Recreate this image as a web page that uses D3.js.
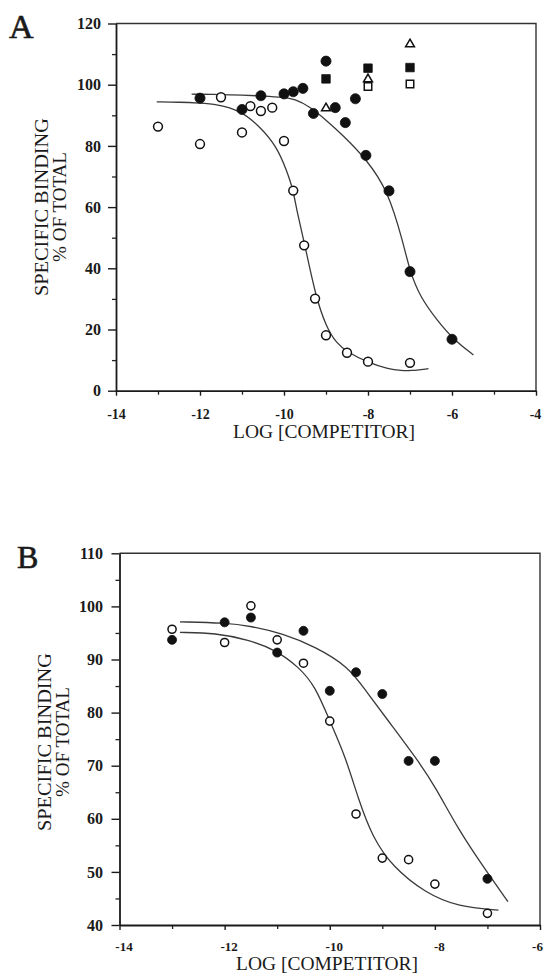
<!DOCTYPE html>
<meta charset="utf-8">
<html>
<script src="https://d3js.org/d3.v7.min.js"></script>
<style>
  body { margin: 0; background: #fff; }
  text { font-family: "Liberation Serif", "DejaVu Serif", serif; fill: #1a1a1a; }
</style>
<div id="chart"></div>
<script>

// ---- panel A data (log competitor, % specific binding) ----
var aOpenLog   = [-13, -12, -11.5, -11, -10.8, -10.55, -10.28, -10, -9.78, -9.52, -9.26, -9, -8.5, -8, -7];
var aOpenPct   = [86.3, 80.6, 95.9, 84.4, 93.0, 91.4, 92.5, 81.6, 65.4, 47.5, 30.1, 18.1, 12.4, 9.5, 9.1];
var aFillLog   = [-12, -11, -10.55, -10, -9.78, -9.55, -9.3, -9, -8.78, -8.54, -8.3, -8.05, -7.5, -7, -6];
var aFillPct   = [95.6, 91.9, 96.4, 97.0, 97.7, 98.8, 90.6, 107.7, 92.5, 87.6, 95.4, 76.9, 65.3, 38.9, 16.8];
var aSqFillLog = [-9, -8, -7];
var aSqFillPct = [101.9, 105.4, 105.6];
var aTriLog    = [-9, -8, -7];
var aTriPct    = [92.3, 101.8, 113.2];
var aSqOpenLog = [-8, -7];
var aSqOpenPct = [99.4, 100.2];

// fitted curves
var aFitOpenLog = [-13.03, -12.5, -12, -11.6, -11.05, -10.57, -10.17, -9.94, -9.78, -9.7, -9.5, -9.25, -9, -8.75, -8.5, -8, -7.5, -7.2, -7, -6.56];
var aFitOpenPct = [94.4, 94.3, 94.0, 93.6, 91.7, 86.3, 79.7, 72.1, 65.6, 59, 47.5, 31, 21, 15.5, 12.7, 9.2, 7.0, 6.6, 6.5, 7.2];
var aFitFillLog = [-12.2, -11.5, -11, -10.5, -10, -9.75, -9.4, -9, -8.6, -8.06, -7.52, -7.16, -7, -6.76, -6.36, -5.97, -5.49];
var aFitFillPct = [96.9, 96.8, 96.6, 96.3, 95.9, 95.3, 93, 88.5, 83.5, 76, 65.4, 48.2, 38.9, 30.7, 23.1, 16.8, 11.7];

// ---- panel B data ----
var bLog     = [-13, -12, -11.5, -11, -10.5, -10, -9.5, -9, -8.5, -8, -7];
var bOpenPct = [95.7, 93.2, 100.1, 93.7, 89.3, 78.4, 60.9, 52.6, 52.3, 47.7, 42.2];
var bFillPct = [93.7, 97.0, 97.9, 91.3, 95.4, 84.1, 87.6, 83.5, 70.9, 70.9, 48.7];

var bFitFillLog = [-12.85, -12, -11.5, -10.9, -10.27, -9.64, -9.32, -8.8, -8.31, -7.99, -7.55, -7.04, -6.61];
var bFitFillPct = [97.1, 96.9, 96.3, 94.9, 92.4, 88.6, 84.2, 77.3, 70.8, 66.0, 57.9, 50.4, 44.4];
var bFitOpenLog = [-12.85, -12.17, -11.54, -11.03, -10.59, -10.27, -10, -9.7, -9.45, -9.19, -8.81, -8.18, -7.55, -6.79];
var bFitOpenPct = [95.1, 95.0, 93.7, 91.8, 88.6, 84.9, 78.4, 71.7, 63.5, 56.6, 51, 46, 43.4, 42.8];

// tick values
var aXTicks = [-14, -12, -10, -8, -6, -4];
var aYTicks = [0, 20, 40, 60, 80, 100, 120];
var bXTicks = [-14, -12, -10, -8, -6];
var bYTicks = [40, 50, 60, 70, 80, 90, 100, 110];

var svg = d3.select("#chart").append("svg")
    .attr("width", 545)
    .attr("height", 978);

function zip(xs, ys) { return xs.map(function(x, i) { return [x, ys[i]]; }); }

function drawPanel(p) {
  var x = d3.scaleLinear().domain(p.xDomain).range([p.left, p.right]);
  var y = d3.scaleLinear().domain(p.yDomain).range([p.bottom, p.top]);
  var g = svg.append("g");

  // box top and right
  g.append("path")
    .attr("d", "M" + p.left + "," + p.top + "H" + p.right + "V" + p.bottom)
    .attr("fill", "none").attr("stroke", "#333").attr("stroke-width", 1.4);

  // minor ticks
  g.append("g").attr("transform", "translate(0," + p.bottom + ")")
    .call(d3.axisBottom(x).tickValues(p.xMinor).tickSize(4).tickSizeOuter(0).tickFormat(""))
    .call(function(s) { s.select(".domain").remove(); s.selectAll("line").attr("stroke", "#222").attr("stroke-width", 1.3); });
  g.append("g").attr("transform", "translate(" + p.left + ",0)")
    .call(d3.axisLeft(y).tickValues(p.yMinor).tickSize(4).tickSizeOuter(0).tickFormat(""))
    .call(function(s) { s.select(".domain").remove(); s.selectAll("line").attr("stroke", "#222").attr("stroke-width", 1.3); });

  // major axes
  var xa = g.append("g").attr("transform", "translate(0," + p.bottom + ")")
    .call(d3.axisBottom(x).tickValues(p.xTicks).tickSize(5).tickPadding(p.xPad).tickSizeOuter(0)
      .tickFormat(function(d) { return String(d); }));
  var ya = g.append("g").attr("transform", "translate(" + p.left + ",0)")
    .call(d3.axisLeft(y).tickValues(p.yTicks).tickSize(8).tickPadding(p.yPad).tickSizeOuter(0)
      .tickFormat(function(d) { return String(d); }));
  [xa, ya].forEach(function(a) {
    a.select(".domain").attr("stroke", "#1a1a1a").attr("stroke-width", 1.8);
    a.selectAll("line").attr("stroke", "#1a1a1a").attr("stroke-width", 1.4);
    a.selectAll("text").attr("font-family", "Liberation Serif").attr("font-weight", "bold").attr("fill", "#1a1a1a");
  });
  // keep the last label inside the page
  xa.selectAll("text")
    .attr("font-size", p.xFont + "px")
    .attr("dx", function(d, i) { return i === p.xTicks.length - 1 ? p.xDxLast : p.xDx; });
  ya.selectAll("text").attr("font-size", p.yFont + "px");

  // axis titles
  g.append("text")
    .attr("x", p.xTitleX).attr("y", p.xTitleY)
    .attr("text-anchor", "middle").attr("font-size", "18px")
    .attr("textLength", 182).attr("lengthAdjust", "spacingAndGlyphs")
    .text("LOG [COMPETITOR]");
  g.append("text")
    .attr("transform", "translate(" + p.yTitleX1 + "," + p.yTitleMid + ") rotate(-90)")
    .attr("text-anchor", "middle").attr("font-size", "18px")
    .attr("textLength", 178).attr("lengthAdjust", "spacingAndGlyphs")
    .text("SPECIFIC BINDING");
  g.append("text")
    .attr("transform", "translate(" + p.yTitleX2 + "," + p.yTitleMid + ") rotate(-90)")
    .attr("text-anchor", "middle").attr("font-size", "18px")
    .attr("textLength", 110).attr("lengthAdjust", "spacingAndGlyphs")
    .text("% OF TOTAL");

  // panel letter
  g.append("text")
    .attr("x", p.letterX).attr("y", p.letterY)
    .attr("font-size", p.letterSize + "px")
    .attr("stroke", "#1a1a1a").attr("stroke-width", 0.6)
    .text(p.letter);

  // fitted curves
  var line = d3.line()
    .x(function(d) { return x(d[0]); })
    .y(function(d) { return y(d[1]); })
    .curve(d3.curveBasis);
  p.fits.forEach(function(f) {
    g.append("path")
      .datum(f)
      .attr("d", line)
      .attr("fill", "none")
      .attr("stroke", "#3a3a3a")
      .attr("stroke-width", 1.3);
  });

  // markers
  p.series.forEach(function(s) {
    g.append("g").selectAll("path")
      .data(s.data)
      .enter().append("path")
      .attr("transform", function(d) { return "translate(" + x(d[0]) + "," + y(d[1]) + ")"; })
      .attr("d", d3.symbol().type(s.type).size(s.size))
      .attr("fill", s.filled ? "#111" : "#fff")
      .attr("stroke", "#111")
      .attr("stroke-width", s.filled ? 0.8 : 1.5);
  });
}

drawPanel({
  letter: "A", letterX: 9, letterY: 38, letterSize: 34,
  xDomain: [-14, -4], yDomain: [0, 120],
  left: 116, right: 536, top: 23.5, bottom: 390.7,
  xTicks: aXTicks, yTicks: aYTicks,
  xMinor: [-13, -11, -9, -7, -5], yMinor: [10, 30, 50, 70, 90, 110],
  xPad: 13, yPad: 7, xFont: 14, yFont: 16, xDx: 0, xDxLast: -1,
  xTitleX: 324, xTitleY: 438,
  yTitleX1: 48, yTitleX2: 66, yTitleMid: 207,
  fits: [zip(aFitOpenLog, aFitOpenPct), zip(aFitFillLog, aFitFillPct)],
  series: [
    { data: zip(aOpenLog, aOpenPct), type: d3.symbolCircle, size: 62, filled: false },
    { data: zip(aFillLog, aFillPct), type: d3.symbolCircle, size: 80, filled: true },
    { data: zip(aSqFillLog, aSqFillPct), type: d3.symbolSquare, size: 72, filled: true },
    { data: zip(aTriLog, aTriPct), type: d3.symbolTriangle, size: 34, filled: false },
    { data: zip(aSqOpenLog, aSqOpenPct), type: d3.symbolSquare, size: 56, filled: false }
  ]
});

drawPanel({
  letter: "B", letterX: 17, letterY: 568, letterSize: 32,
  xDomain: [-14, -6], yDomain: [40, 110],
  left: 119.5, right: 540, top: 553.3, bottom: 925,
  xTicks: bXTicks, yTicks: bYTicks,
  xMinor: [-13, -11, -9, -7], yMinor: [45, 55, 65, 75, 85, 95, 105],
  xPad: 12, yPad: 8.5, xFont: 13, yFont: 16, xDx: 4, xDxLast: -3,
  xTitleX: 327, xTitleY: 970,
  yTitleX1: 51, yTitleX2: 69, yTitleMid: 742,
  fits: [zip(bFitFillLog, bFitFillPct), zip(bFitOpenLog, bFitOpenPct)],
  series: [
    { data: zip(bLog, bOpenPct), type: d3.symbolCircle, size: 52, filled: false },
    { data: zip(bLog, bFillPct), type: d3.symbolCircle, size: 64, filled: true }
  ]
});
</script>
</html>
